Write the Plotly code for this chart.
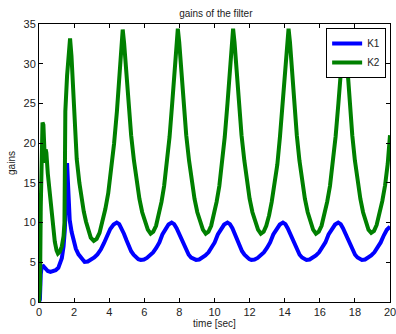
import plotly.graph_objects as go

# Filter gain K1 (time [s], gain)
k1_t = [0.0, 0.05, 0.1, 0.15, 0.25, 0.35, 0.5, 0.65, 0.8, 0.95, 1.1, 1.2, 1.3, 1.4, 1.47, 1.53, 1.57, 1.6,
        1.64, 1.68, 1.75, 1.86, 1.98, 2.1, 2.25, 2.43, 2.6,
        2.78, 2.97, 3.15, 3.33, 3.52, 3.70, 3.88, 4.06, 4.25, 4.43,
        4.57, 4.70, 4.84, 4.98, 5.12, 5.25, 5.39, 5.53, 5.66, 5.8,
        5.98, 6.15, 6.33, 6.50, 6.68, 6.86, 7.03, 7.21, 7.38, 7.56,
        7.70, 7.84, 7.98, 8.12, 8.26, 8.39, 8.53, 8.67, 8.81, 8.95,
        9.13, 9.30, 9.48, 9.66, 9.84, 10.01, 10.19, 10.37, 10.55, 10.74,
        10.88, 11.02, 11.15, 11.29, 11.43, 11.57, 11.71, 11.84, 11.98, 12.1,
        12.28, 12.46, 12.63, 12.81, 12.99, 13.17, 13.35, 13.53, 13.72, 13.9,
        14.04, 14.17, 14.31, 14.44, 14.58, 14.72, 14.85, 14.99, 15.12, 15.24,
        15.42, 15.60, 15.78, 15.96, 16.14, 16.32, 16.50, 16.69, 16.87, 17.05,
        17.19, 17.32, 17.46, 17.60, 17.74, 17.87, 18.01, 18.15, 18.28, 18.4,
        18.58, 18.76, 18.93, 19.11, 19.29, 19.47, 19.65, 19.82, 20.0]
k1_v = [0.0, 0.3, 3.5, 4.4, 4.5, 4.2, 3.9, 3.8, 3.85, 4.0, 4.3, 4.8, 5.5, 7.0, 9.0, 12.5, 15.5, 17.5,
        15.5, 12.5, 10.3, 8.8, 7.6, 6.7, 6.0, 5.4, 5.05,
        5.1, 5.3, 5.6, 6.0, 6.6, 7.4, 8.4, 9.2, 9.75, 10.0,
        9.8, 9.3, 8.6, 7.8, 7.0, 6.4, 5.95, 5.6, 5.4, 5.3,
        5.35, 5.55, 5.85, 6.25, 6.8, 7.5, 8.5, 9.2, 9.75, 10.0,
        9.8, 9.3, 8.6, 7.8, 7.0, 6.4, 5.95, 5.6, 5.4, 5.3,
        5.35, 5.55, 5.85, 6.25, 6.8, 7.5, 8.5, 9.2, 9.75, 10.0,
        9.8, 9.3, 8.6, 7.8, 7.0, 6.4, 5.95, 5.6, 5.4, 5.3,
        5.35, 5.55, 5.85, 6.25, 6.8, 7.5, 8.5, 9.2, 9.75, 10.0,
        9.8, 9.3, 8.6, 7.8, 7.0, 6.4, 5.95, 5.6, 5.4, 5.3,
        5.35, 5.55, 5.85, 6.25, 6.8, 7.5, 8.5, 9.2, 9.75, 10.0,
        9.8, 9.3, 8.6, 7.8, 7.0, 6.4, 5.95, 5.6, 5.4, 5.3,
        5.35, 5.55, 5.85, 6.25, 6.8, 7.5, 8.4, 9.1, 9.5]

# Filter gain K2 (time [s], gain)
k2_t = [0.0, 0.06, 0.1, 0.15, 0.2, 0.25, 0.3, 0.34, 0.38, 0.42, 0.5, 0.6, 0.7, 0.8, 0.9, 1.0, 1.08, 1.18,
        1.3, 1.4, 1.45, 1.48, 1.5, 1.6, 1.7, 1.77,
        1.85, 1.92, 2.0, 2.15, 2.3, 2.43, 2.55, 2.68, 2.8, 2.95, 3.12,
        3.285, 3.45, 3.615, 3.78, 3.945, 4.11, 4.275, 4.44, 4.605, 4.69, 4.77,
        4.85, 4.93, 5.01, 5.09, 5.25, 5.41, 5.57, 5.72, 5.88, 6.04, 6.20, 6.36,
        6.51, 6.67, 6.82, 6.98, 7.13, 7.28, 7.44, 7.59, 7.75, 7.83, 7.91,
        7.99, 8.07, 8.15, 8.23, 8.39, 8.55, 8.71, 8.86, 9.02, 9.18, 9.34, 9.50,
        9.655, 9.81, 9.965, 10.12, 10.275, 10.43, 10.585, 10.74, 10.895, 10.975, 11.06,
        11.14, 11.22, 11.30, 11.38, 11.54, 11.70, 11.85, 12.00, 12.16, 12.32, 12.48, 12.64,
        12.80, 12.95, 13.11, 13.26, 13.42, 13.58, 13.73, 13.89, 14.04, 14.13, 14.22,
        14.30, 14.38, 14.46, 14.54, 14.69, 14.84, 15.00, 15.15, 15.31, 15.46, 15.62, 15.78,
        15.94, 16.10, 16.26, 16.42, 16.58, 16.74, 16.90, 17.06, 17.22, 17.30, 17.39,
        17.47, 17.545, 17.62, 17.70, 17.85, 18.0, 18.16, 18.31, 18.465, 18.62, 18.775, 18.93,
        19.09, 19.24, 19.40, 19.56, 19.72, 19.87, 20.0]
k2_v = [0.0, 2.0, 12.0, 21.0, 22.6, 22.3, 19.5, 17.5, 19.2, 18.8, 16.2, 13.8, 11.5, 9.4, 7.6, 6.5, 6.1, 6.3,
        7.0, 8.3, 10.0, 18.0, 24.0, 28.5, 31.8, 33.2,
        31.0, 27.5, 24.0, 18.0, 15.0, 13.0, 11.4, 10.1, 9.0, 8.1, 7.7,
        7.95, 8.7, 10.0, 11.7, 13.7, 16.4, 19.9, 24.0, 29.0, 32.6, 34.3,
        32.6, 30.0, 27.4, 25.0, 21.0, 17.8, 15.2, 13.0, 11.3, 10.0, 9.1, 8.6,
        8.85, 9.6, 10.9, 12.6, 14.6, 17.3, 20.8, 25.0, 29.8, 32.7, 34.4,
        32.7, 30.0, 27.4, 25.0, 21.0, 17.8, 15.2, 13.0, 11.3, 10.0, 9.1, 8.6,
        8.85, 9.6, 10.9, 12.6, 14.6, 17.3, 20.8, 25.0, 29.8, 32.7, 34.4,
        32.7, 30.0, 27.4, 25.0, 21.0, 17.8, 15.2, 13.0, 11.3, 10.0, 9.1, 8.6,
        8.85, 9.6, 10.9, 12.6, 14.6, 17.3, 20.8, 25.0, 29.8, 32.7, 34.4,
        32.7, 30.0, 27.4, 25.0, 21.0, 17.8, 15.2, 13.0, 11.3, 10.0, 9.1, 8.6,
        8.85, 9.6, 10.9, 12.6, 14.6, 17.3, 20.8, 25.0, 29.8, 32.6, 34.3,
        32.6, 30.0, 27.4, 25.0, 21.0, 17.8, 15.2, 13.0, 11.3, 10.0, 9.1, 8.7,
        8.95, 9.7, 11.0, 12.7, 14.7, 17.4, 21.0]

x_ticks = [0, 2, 4, 6, 8, 10, 12, 14, 16, 18, 20]
y_ticks = [0, 5, 10, 15, 20, 25, 30, 35]

FONT = "Liberation Sans, Arial, Helvetica, sans-serif"
TEXT = "#222222"

fig = go.Figure()
fig.add_trace(go.Scatter(x=k1_t, y=k1_v, mode="lines", name="K1",
                         line=dict(color="#0000ff", width=4)))
fig.add_trace(go.Scatter(x=k2_t, y=k2_v, mode="lines", name="K2",
                         line=dict(color="#008000", width=4)))

axis_common = dict(showline=True, linecolor="black", linewidth=1, mirror="allticks",
                   ticks="inside", ticklen=4, tickcolor="black", showgrid=False,
                   zeroline=False, ticklabeloverflow="allow", automargin=False,
                   tickfont=dict(family=FONT, size=11, color=TEXT))

fig.update_layout(
    width=396, height=334,
    margin=dict(l=39, r=6, t=24, b=32),
    paper_bgcolor="white", plot_bgcolor="white",
    font=dict(family=FONT, size=10, color="black"),
    title=dict(text="gains of the filter", x=0.545, xanchor="center", y=0.96, yanchor="middle",
               font=dict(family=FONT, size=10, color=TEXT)),
    xaxis=dict(range=[0, 20], tickvals=x_ticks, title=dict(text="time [sec]", standoff=0,
               font=dict(family=FONT, size=10, color=TEXT)), **axis_common),
    yaxis=dict(range=[0, 35], tickvals=y_ticks, title=dict(text="gains", standoff=6,
               font=dict(family=FONT, size=10, color=TEXT)), **axis_common),
    legend=dict(x=0.989, y=0.986, xanchor="right", yanchor="top", bgcolor="white",
                bordercolor="black", borderwidth=1, font=dict(family=FONT, size=10, color=TEXT),
                tracegroupgap=0, itemwidth=30),
    showlegend=True,
)

fig.write_html("out.html")
